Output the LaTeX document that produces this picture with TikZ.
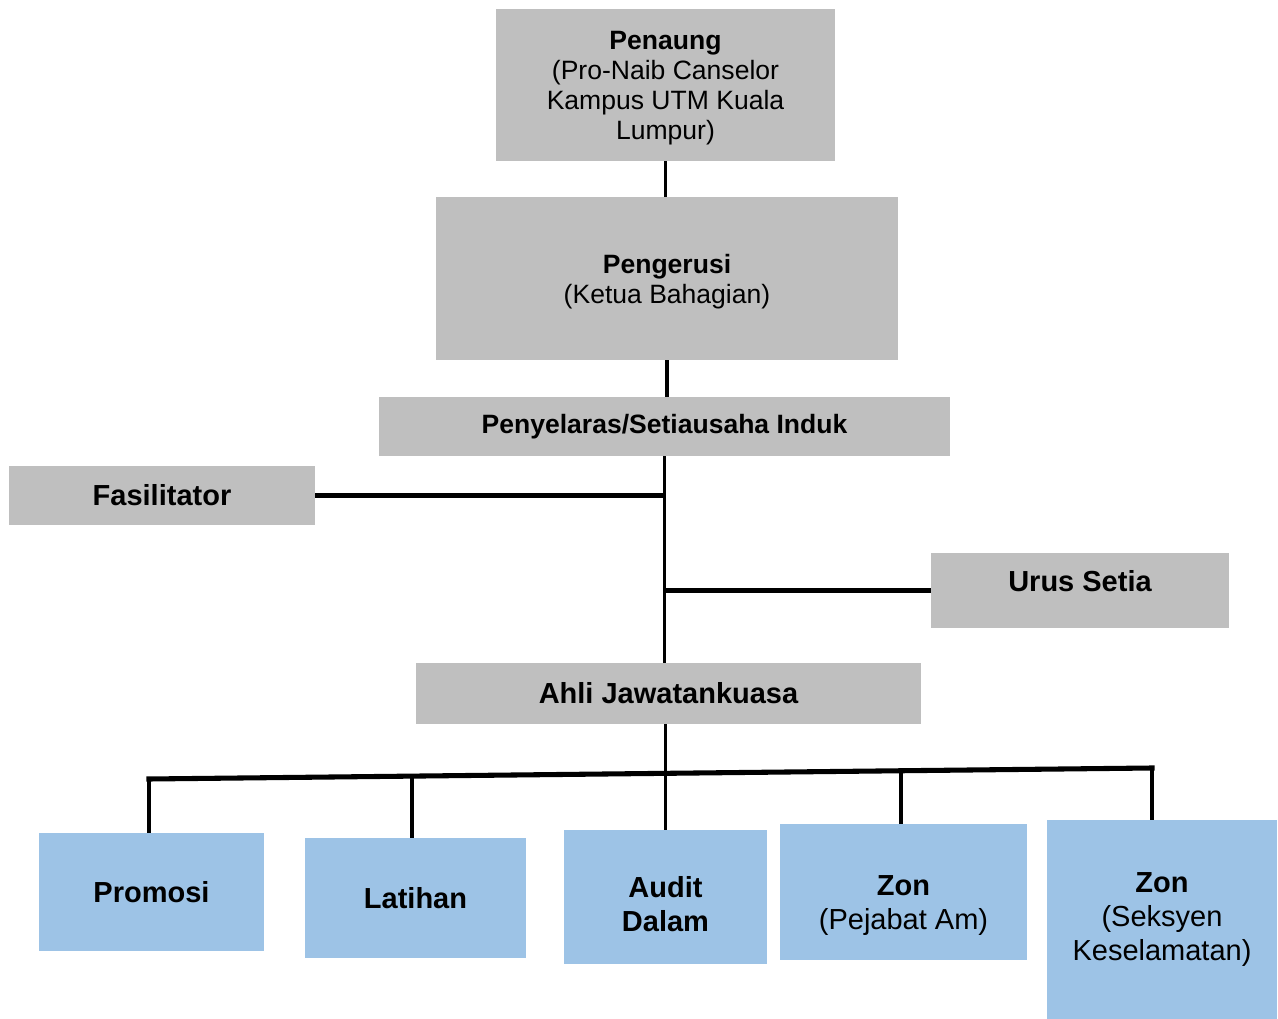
\documentclass[tikz,border=0pt]{standalone}
\usepackage{fontspec}
\setmainfont{Liberation Sans}
\usetikzlibrary{calc}
\definecolor{boxgray}{HTML}{BFBFBF}
\definecolor{boxblue}{HTML}{9DC3E6}
\begin{document}
\begin{tikzpicture}[x=0.75pt, y=-0.75pt,
    topbox/.style={fill=boxgray, inner sep=0pt, align=center, font=\fontsize{19.9}{22.5}\selectfont},
    midbox/.style={fill=boxgray, inner sep=0pt, align=center, font=\bfseries\fontsize{21.75}{25.5}\selectfont},
    unitbox/.style={fill=boxblue, inner sep=0pt, align=center, font=\fontsize{21.75}{25.5}\selectfont},
    spine/.style={line width=2.8pt},
    arm/.style={line width=3.8pt}]
  \useasboundingbox (0,0) rectangle (1278,1019);
  % upper part
  \node [topbox, minimum width=254.25pt, minimum height=114pt] (penaung) at (665.5,85)
    {\rule{0pt}{19pt}\textbf{Penaung}\\(Pro-Naib Canselor\\Kampus UTM Kuala\\Lumpur)};
  \node [topbox, minimum width=346.5pt, minimum height=122.25pt] (pengerusi) at (667,278.5)
    {\rule{0pt}{19pt}\textbf{Pengerusi}\\(Ketua Bahagian)};
  \node [topbox, font=\bfseries\fontsize{19.9}{22.5}\selectfont, minimum width=428.25pt, minimum height=44.25pt] (penyelaras) at (664.5,426.5)
    {Penyelaras/Setiausaha Induk};
  \node [midbox, minimum width=229.5pt, minimum height=44.25pt] (fasil) at (162,495.5) {Fasilitator};
  \node [midbox, minimum width=223.5pt, minimum height=56.25pt] (urus) at (1080,590.5)
    {Urus Setia\rule[-14.2pt]{0pt}{14.2pt}};
  \node [midbox, minimum width=378.75pt, minimum height=45.75pt] (ahli) at (668.5,693.5) {Ahli Jawatankuasa};
  % units
  \node [unitbox, minimum width=168.75pt, minimum height=88.5pt] (promosi) at (151.5,892) {\textbf{Promosi}};
  \node [unitbox, minimum width=165.75pt, minimum height=90pt] (latihan) at (415.5,898) {\textbf{Latihan}};
  \node [unitbox, minimum width=152.25pt, minimum height=100.5pt] (audit) at (665.5,897)
    {\rule{0pt}{26.4pt}\textbf{Audit}\\\textbf{Dalam}};
  \node [unitbox, minimum width=185.25pt, minimum height=102pt] (zonpa) at (903.5,892)
    {\rule{0pt}{35pt}\textbf{Zon}\\(Pejabat Am)};
  \node [unitbox, minimum width=172.5pt, minimum height=149.25pt] (zonsk) at (1162,919.5)
    {\textbf{Zon}\\(Seksyen\\Keselamatan)};
  % connectors
  \draw [spine] (penaung.south) -- (penaung.south |- pengerusi.north);
  \draw [spine] (pengerusi.south) -- (pengerusi.south |- penyelaras.north);
  \draw [spine] (penyelaras.south) -- (penyelaras.south |- ahli.north);
  \draw [arm] (fasil.east) -- (fasil.east -| penyelaras.south);
  \draw [arm] (urus.west) -- (urus.west -| penyelaras.south);
  \coordinate (busL) at (149,779);
  \coordinate (busR) at (1152,768);
  \coordinate (d2) at ($(busL)!0.2622!(busR)$);
  \coordinate (d4) at ($(busL)!0.7498!(busR)$);
  \draw [arm, line cap=rect] (busL) -- (busR);
  \draw [spine] (ahli.south -| audit.north) -- (audit.north);
  \draw [spine] (busL) -- (busL |- promosi.north);
  \draw [spine] (d2) -- (d2 |- latihan.north);
  \draw [spine] (d4) -- (d4 |- zonpa.north);
  \draw [spine] (busR) -- (busR |- zonsk.north);
\end{tikzpicture}
\end{document}
